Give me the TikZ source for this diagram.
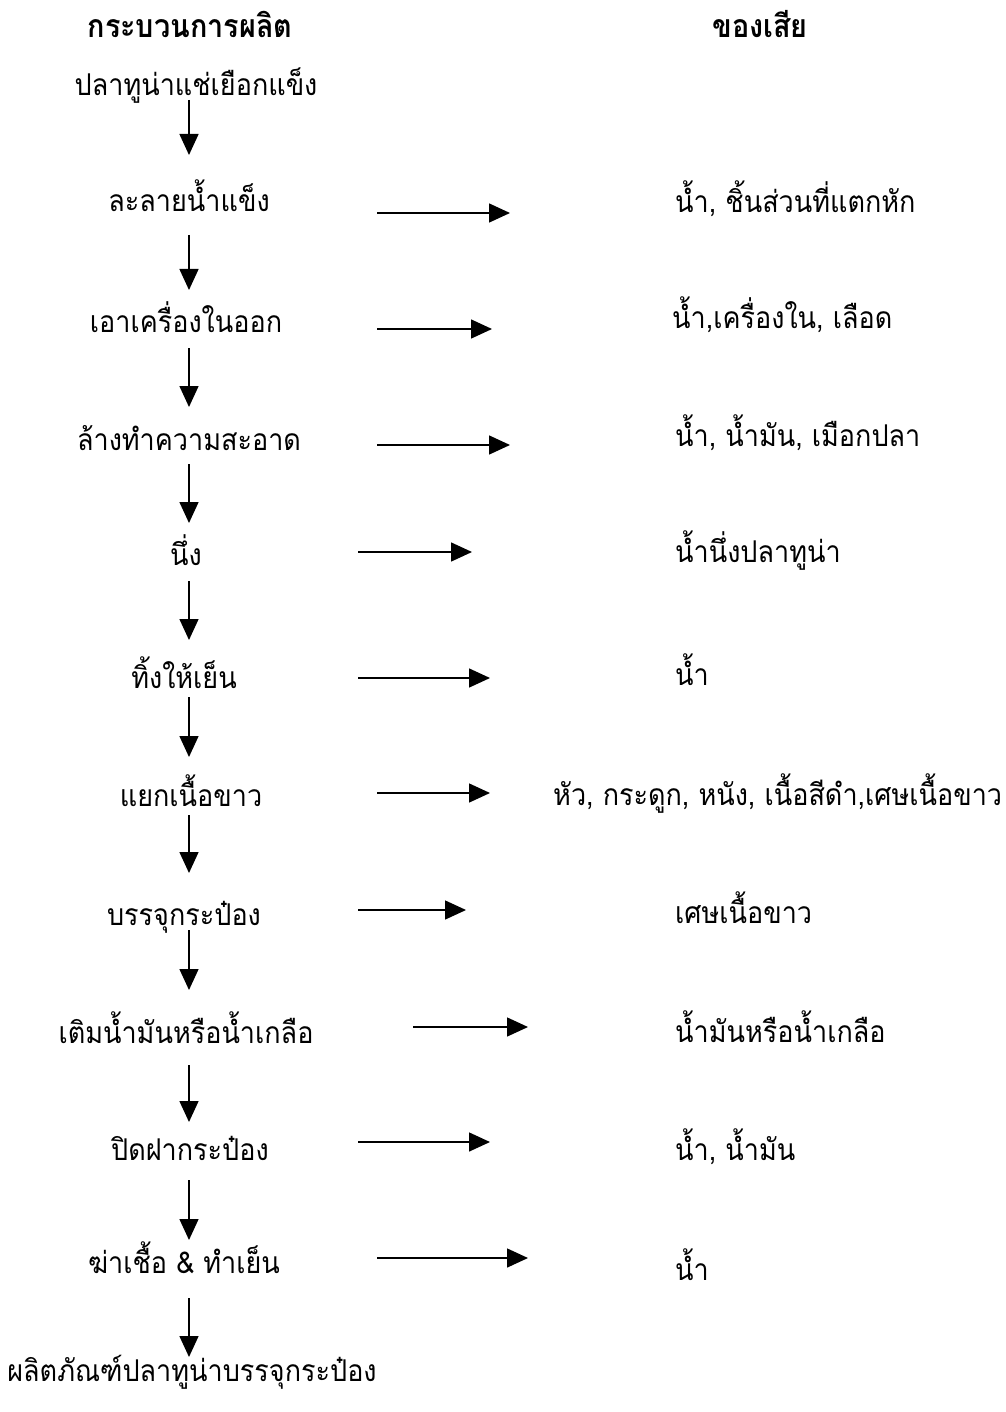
\documentclass[tikz,border=0pt]{standalone}
\usepackage{fontspec}
\setmainfont[Script=Thai, FakeStretch=0.9]{Loma}
\usetikzlibrary{arrows.meta}
\begin{document}
\begin{tikzpicture}[x=1pt,y=-1pt,
  every node/.style={inner sep=0pt, font=\fontsize{30}{32}\selectfont},
  stepnode/.style={anchor=base},
  wastenode/.style={anchor=base west},
  hdr/.style={anchor=base, font=\fontsize{32}{34}\selectfont\bfseries},
  flow/.style={line width=1.5pt, -{Triangle[length=21pt,width=19pt]}}]
\useasboundingbox (0,0) rectangle (1005,1412);
\coordinate (vx) at (189,0);
% headers
\node[hdr] (hdrL) at (190,38) {กระบวนการผลิต};
\node[hdr] (hdrR) at (760,38) {ของเสีย};
% process steps
\node[stepnode] (s1)  at (196,96)   {ปลาทูน่าแช่เยือกแข็ง};
\node[stepnode] (s2)  at (189,212)  {ละลายน้ำแข็ง};
\node[stepnode] (s3)  at (186,332)  {เอาเครื่องในออก};
\node[stepnode] (s4)  at (189,450)  {ล้างทำความสะอาด};
\node[stepnode] (s5)  at (186,565)  {นึ่ง};
\node[stepnode] (s6)  at (184,688)  {ทิ้งให้เย็น};
\node[stepnode] (s7)  at (191,806)  {แยกเนื้อขาว};
\node[stepnode] (s8)  at (184,925)  {บรรจุกระป๋อง};
\node[stepnode] (s9)  at (186,1043) {เติมน้ำมันหรือน้ำเกลือ};
\node[stepnode] (s10) at (190,1160) {ปิดฝากระป๋อง};
\node[stepnode] (s11) at (184,1273) {ฆ่าเชื้อ \& ทำเย็น};
\node[stepnode] (s12) at (192,1381) {ผลิตภัณฑ์ปลาทูน่าบรรจุกระป๋อง};
% wastes
\node[wastenode] (w2)  at (675,213)  {น้ำ, ชิ้นส่วนที่แตกหัก};
\node[wastenode] (w3)  at (672,328)  {น้ำ,เครื่องใน, เลือด};
\node[wastenode] (w4)  at (675,446)  {น้ำ, น้ำมัน, เมือกปลา};
\node[wastenode] (w5)  at (675,562)  {น้ำนึ่งปลาทูน่า};
\node[wastenode] (w6)  at (675,685)  {น้ำ};
\node[wastenode] (w7)  at (553,805)  {หัว, กระดูก, หนัง, เนื้อสีดำ,เศษเนื้อขาว};
\node[wastenode] (w8)  at (675,923)  {เศษเนื้อขาว};
\node[wastenode] (w9)  at (675,1042) {น้ำมันหรือน้ำเกลือ};
\node[wastenode] (w10) at (675,1160) {น้ำ, น้ำมัน};
\node[wastenode] (w11) at (675,1280) {น้ำ};
% vertical arrows
\foreach \a/\b/\p/\q in {s1/s2/4/57, s2/s3/23/42, s3/s4/16/43, s4/s5/14/42,
    s5/s6/16/48, s6/s7/9/49, s7/s8/9/52, s8/s9/5/53, s9/s10/22/38,
    s10/s11/20/33, s11/s12/25/24}
  \draw[flow, shorten <=\p pt, shorten >=\q pt] (\a.base -| vx) -- (\b.base -| vx);
% horizontal arrows
\coordinate (h2a) at (377,213);  \coordinate (h2b) at (510,213);
\coordinate (h3a) at (377,329);  \coordinate (h3b) at (492,329);
\coordinate (h4a) at (377,445);  \coordinate (h4b) at (510,445);
\coordinate (h5a) at (358,552);  \coordinate (h5b) at (472,552);
\coordinate (h6a) at (358,678);  \coordinate (h6b) at (490,678);
\coordinate (h7a) at (377,793);  \coordinate (h7b) at (490,793);
\coordinate (h8a) at (358,910);  \coordinate (h8b) at (466,910);
\coordinate (h9a) at (413,1027); \coordinate (h9b) at (528,1027);
\coordinate (h10a) at (358,1142); \coordinate (h10b) at (490,1142);
\coordinate (h11a) at (377,1258); \coordinate (h11b) at (528,1258);
\foreach \i in {2,...,11}
  \draw[flow] (h\i a) -- (h\i b);
\end{tikzpicture}
\end{document}
